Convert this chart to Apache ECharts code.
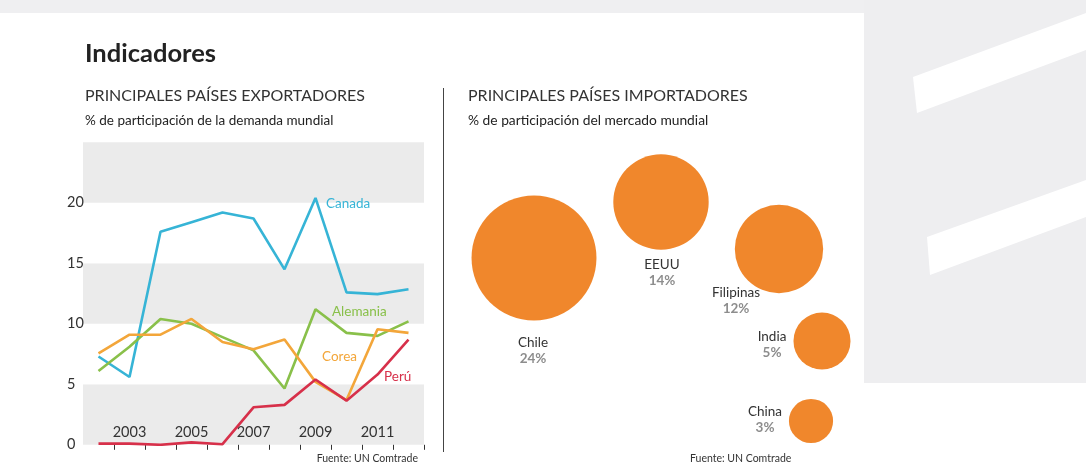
<!DOCTYPE html>
<html><head><meta charset="utf-8">
<script src="https://cdn.jsdelivr.net/npm/echarts@6/dist/echarts.min.js"></script>
<style>html,body{margin:0;padding:0;background:#fff}#c{width:1086px;height:466px}</style>
</head><body><div id="c"></div>
<script>
// ---- data ----
const years = ['2002','2003','2004','2005','2006','2007','2008','2009','2010','2011','2012'];
const canada   = [7.3, 5.6, 17.6, 18.4, 19.2, 18.7, 14.5, 20.4, 12.6, 12.45, 12.85];
const alemania = [6.1, 8.1, 10.4, 10.0, 8.9, 7.8, 4.65, 11.2, 9.25, 9.0, 10.2];
const corea    = [7.55, 9.1, 9.1, 10.4, 8.5, 7.9, 8.7, 5.2, 3.7, 9.55, 9.25];
const peru     = [0.1, 0.1, 0.0, 0.2, 0.05, 3.1, 3.3, 5.4, 3.65, 5.8, 8.7];
const yTickStep = 5;
const importers   = ['Chile', 'EEUU', 'Filipinas', 'India', 'China'];
const importShare = [24, 14, 12, 5, 3];

// ---- layout (not data) ----
const FONT = 'Lato, "Open Sans", sans-serif';
const bubbleX = [534, 661, 779, 822, 811];
const bubbleY = [258, 202, 249, 341, 421];
const bubbleLabelOffset = [[-1, 93], [1, 71], [-43, 52], [-50, 4], [-46, -1]];
const COL = { canada: '#36b4d6', alemania: '#89c04a', corea: '#f3a63a', peru: '#d7304a', bubble: '#f0872c' };

const chart = echarts.init(document.getElementById('c'), null, { renderer: 'canvas' });

function lineSeries(name, data, color) {
  return {
    name, type: 'line', data, xAxisIndex: 0, yAxisIndex: 0,
    symbol: 'none', smooth: false, z: 3,
    lineStyle: { color, width: 2.6 }, itemStyle: { color }
  };
}

function txt(x, y, text, size, color, weight, align) {
  return {
    type: 'text', x, y, z: 10,
    style: { text, fontSize: size, fontFamily: FONT, fill: color, fontWeight: weight || 'normal',
             textAlign: align || 'left', textVerticalAlign: 'middle' }
  };
}

const option = {
  backgroundColor: '#ffffff',
  animation: false,
  grid: [
    { left: 83, top: 142.3, width: 341, height: 302.5 },
    { left: 0, top: 0, width: 1086, height: 466 }
  ],
  xAxis: [
    {
      type: 'category', gridIndex: 0, data: years, boundaryGap: true,
      axisLine: { show: false },
      axisTick: { show: true, length: 5, lineStyle: { color: '#333', width: 1 },
                  interval: function (i) { return i > 0; } },
      axisLabel: { inside: true, margin: 5, fontSize: 14.5, fontFamily: FONT, color: '#333',
                   interval: function (i) { return i % 2 === 1; } },
      splitLine: { show: false }
    },
    { type: 'value', gridIndex: 1, min: 0, max: 1086, show: false }
  ],
  yAxis: [
    {
      type: 'value', gridIndex: 0, min: 0, max: 25, interval: yTickStep,
      axisLine: { show: false }, axisTick: { show: false },
      axisLabel: { fontSize: 14.5, fontFamily: FONT, color: '#333', align: 'left', margin: 16,
                   formatter: function (v) { return v >= 25 ? '' : String(v); } },
      splitLine: { show: false },
      splitArea: { show: true, areaStyle: { color: ['#ebebeb', '#ffffff'] } }
    },
    { type: 'value', gridIndex: 1, min: 0, max: 466, inverse: true, show: false }
  ],
  series: [
    lineSeries('Canada', canada, COL.canada),
    lineSeries('Alemania', alemania, COL.alemania),
    lineSeries('Corea', corea, COL.corea),
    lineSeries('Perú', peru, COL.peru),
    {
      type: 'scatter', xAxisIndex: 1, yAxisIndex: 1, z: 4,
      data: importers.map(function (n, i) {
        return {
          name: n,
          value: [bubbleX[i], bubbleY[i], importShare[i]],
          label: { show: true, position: 'inside', offset: bubbleLabelOffset[i],
                   formatter: '{n|' + n + '}\n{p|' + importShare[i] + '%}',
                   rich: {
                     n: { fontSize: 13.5, fontFamily: FONT, color: '#333', lineHeight: 16, align: 'center' },
                     p: { fontSize: 13.5, fontFamily: FONT, color: '#8d8d8d', fontWeight: 'bold', lineHeight: 16, align: 'center' }
                   } }
        };
      }),
      symbol: 'circle',
      symbolSize: function (v) { return 25.5 * Math.sqrt(v[2]); },
      itemStyle: { color: COL.bubble, opacity: 1 }
    }
  ],
  graphic: [
    // page frame
    { type: 'rect', z: -10, shape: { x: 0, y: 0, width: 1086, height: 13 }, style: { fill: '#efeff1' } },
    { type: 'rect', z: -10, shape: { x: 864, y: 0, width: 222, height: 383 }, style: { fill: '#eeeef0' } },
    { type: 'polygon', z: -9, shape: { points: [[913, 77], [1086, 13], [1086, 50], [917, 113]] }, style: { fill: '#ffffff' } },
    { type: 'polygon', z: -9, shape: { points: [[927, 237], [1086, 180], [1086, 217], [930, 275]] }, style: { fill: '#ffffff' } },
    // titles
    txt(85, 54, 'Indicadores', 25.5, '#222', 'bold'),
    txt(85, 96, 'PRINCIPALES PAÍSES EXPORTADORES', 16, '#333'),
    txt(85, 121, '% de participación de la demanda mundial', 13.5, '#222'),
    txt(468, 96, 'PRINCIPALES PAÍSES IMPORTADORES', 16, '#333'),
    txt(468, 121, '% de participación del mercado mundial', 13.8, '#222'),
    // divider
    { type: 'line', z: 10, shape: { x1: 443.5, y1: 88, x2: 443.5, y2: 452 }, style: { stroke: '#444', lineWidth: 1 } },
    // series labels
    txt(326, 204, 'Canada', 13.5, COL.canada),
    txt(332, 312, 'Alemania', 13.5, COL.alemania),
    txt(322, 357, 'Corea', 13.5, COL.corea),
    txt(384, 377, 'Perú', 13.5, COL.peru),
    // sources
    txt(418, 459, 'Fuente: UN Comtrade', 10.5, '#333', 'normal', 'right'),
    txt(690, 459, 'Fuente: UN Comtrade', 10.5, '#333')
  ]
};
chart.setOption(option);
</script>
</body></html>
